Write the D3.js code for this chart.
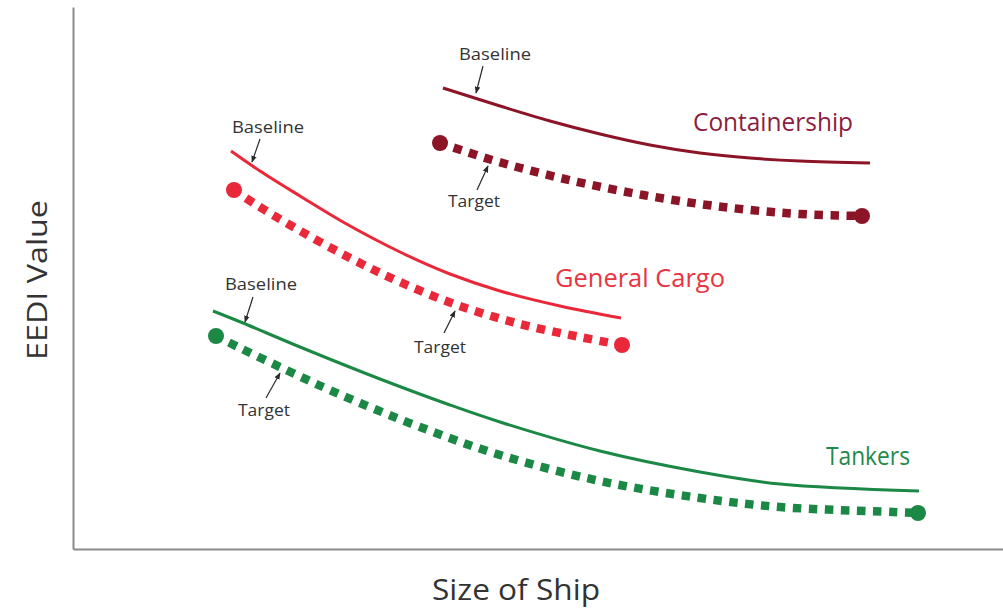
<!DOCTYPE html>
<html><head><meta charset="utf-8">
<script src="https://cdn.jsdelivr.net/npm/d3@7"></script>
<style>
html,body{margin:0;padding:0;background:#fff;}
svg{display:block;}
text{font-family:"Open Sans",sans-serif;}
</style></head>
<body>
<svg id="chart" width="1003" height="615"></svg>
<script>
// ---- data (abstract units: size of ship, EEDI value) ----
const categories = ["Containership", "General Cargo", "Tankers"];
const containerBaseline = [[370,461],[427,443],[477,428],[527,415],[577,404],[627,396],[677,391],[727,388],[797,386]];
const containerTarget   = [[367,406],[419,389],[467,376],[514,365],[570,354],[627,345],[677,339],[727,335],[789,333]];
const cargoBaseline     = [[158,398],[187,378],[227,353],[270,327],[327,297],[377,275],[427,258],[487,243],[548,231]];
const cargoTarget       = [[161,359],[182,345],[224,320],[277,291],[327,267],[384,244],[447,225],[507,212],[549,204]];
const tankerBaseline    = [[140,238],[170,226],[227,202],[307,170],[377,144],[427,127],[527,98],[627,77],[707,65],[846,58]];
const tankerTarget      = [[143,213],[165,202],[209,181],[250,162],[287,146],[347,122],[427,94],[527,68],[627,51],[707,42],[820,37],[845,36]];
const axisTitles = ["Size of Ship", "EEDI Value"];
const lineLabels = ["Baseline", "Target"];

// ---- layout / styles ----
const colors = {"Containership":"#8c1427","General Cargo":"#e9283a","Tankers":"#1c8845"};
const labelColors = {"Containership":"#8d1d3e","General Cargo":"#e8353f","Tankers":"#1f8a4b"};
const series = [
  {name:"Containership", base:containerBaseline, target:containerTarget},
  {name:"General Cargo", base:cargoBaseline, target:cargoTarget},
  {name:"Tankers", base:tankerBaseline, target:tankerTarget}
];

const svg = d3.select("#chart");
const x = d3.scaleLinear().domain([0,930]).range([73,1003]);
const y = d3.scaleLinear().domain([0,542]).range([549,7]);

// axes (no ticks)
svg.append("g").attr("transform","translate(0,549)")
  .call(d3.axisBottom(x).tickValues([]).tickSizeOuter(0))
  .select(".domain").attr("stroke","#8a8a8a").attr("stroke-width",2);
svg.append("g").attr("transform","translate(73,0)")
  .call(d3.axisLeft(y).tickValues([]).tickSizeOuter(0))
  .select(".domain").attr("stroke","#8a8a8a").attr("stroke-width",2);

const line = d3.line().x(d=>x(d[0])).y(d=>y(d[1])).curve(d3.curveCatmullRom.alpha(0.5));

series.forEach(s=>{
  const c = colors[s.name];
  svg.append("path").attr("d",line(s.base)).attr("fill","none")
    .attr("stroke",c).attr("stroke-width",3);
  svg.append("path").attr("d",line(s.target)).attr("fill","none")
    .attr("stroke",c).attr("stroke-width",8.5)
    .attr("stroke-dasharray","8.5,7.5").attr("stroke-dashoffset",1.5);
  const first = s.target[0], last = s.target[s.target.length-1];
  [first,last].forEach(p=>{
    svg.append("circle").attr("cx",x(p[0])).attr("cy",y(p[1])).attr("r",8).attr("fill",c);
  });
});

// series labels
const seriesLabelPos = {
  "Containership":{x:693,y:131,size:25,len:160},
  "General Cargo":{x:555,y:287,size:26,len:170},
  "Tankers":{x:826,y:465,size:26,len:84}
};
categories.forEach(n=>{
  const p = seriesLabelPos[n];
  svg.append("text").attr("x",p.x).attr("y",p.y).attr("font-size",p.size)
    .attr("fill",labelColors[n]).attr("textLength",p.len).attr("lengthAdjust","spacingAndGlyphs")
    .text(n);
});

// arrow marker
svg.append("defs").append("marker").attr("id","ah").attr("viewBox","0 0 10 10")
  .attr("refX",9).attr("refY",5).attr("markerWidth",7).attr("markerHeight",7)
  .attr("markerUnits","userSpaceOnUse").attr("orient","auto")
  .append("path").attr("d","M0,1 L10,5 L0,9 Z").attr("fill","#2a2a2a");

// Baseline / Target annotations
const annotations = [
  {t:0, tx:495, ty:60,  a:[483,66,476,93]},
  {t:1, tx:474, ty:207, a:[477,190,488,166]},
  {t:0, tx:268, ty:133, a:[260,139,252,162]},
  {t:1, tx:440, ty:353, a:[444,333,455,311]},
  {t:0, tx:261, ty:290, a:[253,297,245,322]},
  {t:1, tx:264, ty:416, a:[266,398,280,373]}
];
annotations.forEach(an=>{
  svg.append("text").attr("x",an.tx).attr("y",an.ty).attr("text-anchor","middle")
    .attr("font-size",17).attr("fill","#333")
    .attr("textLength",an.t===0?72:52).attr("lengthAdjust","spacingAndGlyphs")
    .text(lineLabels[an.t]);
  svg.append("line").attr("x1",an.a[0]).attr("y1",an.a[1]).attr("x2",an.a[2]).attr("y2",an.a[3])
    .attr("stroke","#2a2a2a").attr("stroke-width",1.2).attr("marker-end","url(#ah)");
});

// axis titles
svg.append("text").attr("x",432).attr("y",600).attr("font-size",30).attr("fill","#333")
  .attr("textLength",168).attr("lengthAdjust","spacingAndGlyphs").text(axisTitles[0]);
svg.append("text").attr("transform","translate(47,280) rotate(-90)").attr("text-anchor","middle")
  .attr("font-size",28).attr("fill","#333")
  .attr("textLength",160).attr("lengthAdjust","spacingAndGlyphs").text(axisTitles[1]);
</script>
</body></html>
